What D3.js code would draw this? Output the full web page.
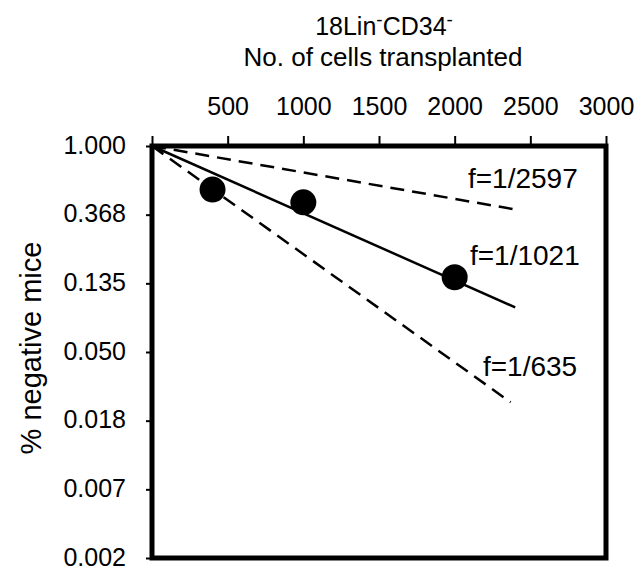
<!DOCTYPE html>
<html>
<head>
<meta charset="utf-8">
<script src="https://cdn.jsdelivr.net/npm/d3@7"></script>
<style>
  body { margin: 0; background: #fff; }
  svg { font-family: "Liberation Sans", Arial, sans-serif; }
</style>
</head>
<body>
<svg></svg>
<script>
// cells transplanted and fraction of negative mice
const cells = [400, 1000, 2000];
const negFraction = [0.53, 0.44, 0.148];

// fitted frequency lines (1/f) and where they stop
const fitNames = ['f=1/2597', 'f=1/1021', 'f=1/635'];
const fitFreq = [2597, 1021, 635];
const fitEnd = [2400, 2400, 2370];
const fitDashed = [true, false, true];

const xTicks = [0, 500, 1000, 1500, 2000, 2500, 3000];
const yTickLn = [0, -1, -2, -3, -4, -5, -6];

const width = 637;
const height = 567;
const plotLeft = 152, plotRight = 606, plotTop = 146, plotBottom = 558;

let svg = d3.select('svg')
    .attr('width', width)
    .attr('height', height)

let xScale = d3.scaleLinear()
    .domain([0, 3000])
    .range([plotLeft, plotRight])

let yScale = d3.scaleLog()
    .base(Math.E)
    .domain([1, Math.exp(-6)])
    .range([plotTop, plotBottom])

// top axis
let xAxis = d3.axisTop(xScale)
    .tickValues(xTicks)
    .tickSize(10)
    .tickFormat(d => d === 0 ? '' : d)

let gx = svg.append('g')
    .attr('transform', 'translate(0,' + plotTop + ')')
    .call(xAxis)
gx.select('.domain').remove()
gx.selectAll('line').attr('stroke', '#000').attr('stroke-width', 2)
gx.selectAll('text')
    .attr('font-size', 25)
    .attr('fill', '#000')
    .attr('y', -31)
    .attr('dy', 0)

// left axis
let yAxis = d3.axisLeft(yScale)
    .tickValues(yTickLn.map(v => Math.exp(v)))
    .tickSize(6)
    .tickFormat(d => d3.format('.3f')(d))

let gy = svg.append('g')
    .attr('transform', 'translate(' + plotLeft + ',0)')
    .call(yAxis)
gy.select('.domain').remove()
gy.selectAll('line').attr('stroke', '#000').attr('stroke-width', 2)
gy.selectAll('text')
    .attr('font-size', 25)
    .attr('fill', '#000')
    .attr('x', -26)
    .attr('dy', '0.28em')

// fit lines
fitFreq.forEach((f, i) => {
    let pts = [0, fitEnd[i]].map(x => [xScale(x), yScale(Math.exp(-x / f))]);
    svg.append('line')
        .attr('x1', pts[0][0]).attr('y1', pts[0][1])
        .attr('x2', pts[1][0]).attr('y2', pts[1][1])
        .attr('stroke', '#000')
        .attr('stroke-width', 2.5)
        .attr('stroke-dasharray', fitDashed[i] ? '14,8' : null)
})

// frame
svg.append('rect')
    .attr('x', plotLeft).attr('y', plotTop)
    .attr('width', plotRight - plotLeft).attr('height', plotBottom - plotTop)
    .attr('fill', 'none')
    .attr('stroke', '#000')
    .attr('stroke-width', 5)

// data points
svg.selectAll('circle')
    .data(cells)
    .enter()
    .append('circle')
    .attr('cx', d => xScale(d))
    .attr('cy', (d, i) => yScale(negFraction[i]))
    .attr('r', 13)
    .attr('fill', '#000')

// fit labels
const labelX = [2088, 2101, 2187];
const labelY = [0.544, 0.178, 0.0351];
fitNames.forEach((n, i) => {
    svg.append('text')
        .attr('x', xScale(labelX[i]))
        .attr('y', yScale(labelY[i]))
        .attr('font-size', 28)
        .text(n)
})

// titles
let title = svg.append('text')
    .attr('x', 384)
    .attr('y', 35)
    .attr('text-anchor', 'middle')
    .attr('font-size', 25)
title.append('tspan').text('18Lin')
title.append('tspan').attr('dy', -9).attr('font-size', 19).text('-')
title.append('tspan').attr('dy', 9).text('CD34')
title.append('tspan').attr('dy', -9).attr('font-size', 19).text('-')

svg.append('text')
    .attr('x', 383)
    .attr('y', 66)
    .attr('text-anchor', 'middle')
    .attr('font-size', 26)
    .text('No. of cells transplanted')

svg.append('text')
    .attr('transform', 'translate(41,' + 348 + ') rotate(-90)')
    .attr('text-anchor', 'middle')
    .attr('font-size', 29)
    .text('% negative mice')
</script>
</body>
</html>
